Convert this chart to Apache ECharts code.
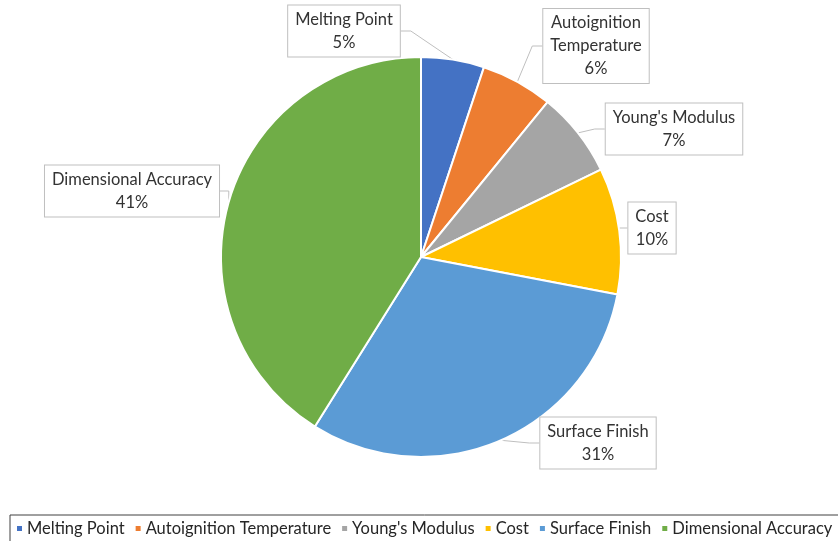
<!DOCTYPE html>
<html>
<head>
<meta charset="utf-8">
<script src="https://cdn.jsdelivr.net/npm/echarts@6/dist/echarts.min.js"></script>
<style>
  html, body { margin: 0; padding: 0; background: #fff; }
  #main { width: 838px; height: 541px; }
</style>
</head>
<body>
<div id="main"></div>
<script>
var categories = ['Melting Point', 'Autoignition Temperature', "Young's Modulus", 'Cost', 'Surface Finish', 'Dimensional Accuracy'];
var shares = [5.1, 5.8, 6.9, 10.2, 30.9, 41.1];
var colors = ['#4472C4', '#ED7D31', '#A5A5A5', '#FFC000', '#5B9BD5', '#70AD47'];

// where each callout box sits (centre of the text)
var calloutSpots = [[344, 31], [596, 46], [674, 129], [652, 228], [598, 443], [132, 191]];

var chart = echarts.init(document.getElementById('main'));

var pieData = categories.map(function (name, i) {
    return { name: name, value: shares[i], itemStyle: { color: colors[i] } };
});

var option = {
    animation: false,
    textStyle: { fontFamily: 'Lato' },
    legend: {
        bottom: -1,
        left: 10,
        width: 900,
        icon: 'rect',
        itemWidth: 7,
        itemHeight: 7,
        itemGap: 9,
        padding: [5, 12, 5, 5],
        borderColor: '#404040',
        borderWidth: 1,
        textStyle: { fontSize: 16.5, color: '#262626', fontFamily: 'Lato', padding: [0, 0, 0, -1] },
        data: categories
    },
    series: [{
        type: 'pie',
        center: [421, 257],
        radius: [0, 200],
        startAngle: 90,
        clockwise: true,
        data: pieData,
        itemStyle: { borderColor: '#fff', borderWidth: 2 },
        label: {
            show: true,
            position: 'outside',
            formatter: function (p) {
                var name = p.name.length > 20 ? p.name.replace(' ', '\n') : p.name;
                return name + '\n' + Math.round(p.value) + '%';
            },
            fontFamily: 'Lato',
            fontSize: 16.5,
            lineHeight: 23,
            color: '#333',
            align: 'center',
            backgroundColor: '#fff',
            borderColor: '#bfbfbf',
            borderWidth: 1,
            padding: [3, 7, 2, 7]
        },
        labelLine: {
            show: true,
            length: 10,
            length2: 10,
            lineStyle: { color: '#bfbfbf', width: 1 }
        },
        labelLayout: function (params) {
            var spot = calloutSpots[params.dataIndex];
            return {
                x: spot[0],
                y: spot[1],
                align: 'center',
                verticalAlign: 'middle'
            };
        }
    }]
};

chart.setOption(option);
</script>
</body>
</html>
